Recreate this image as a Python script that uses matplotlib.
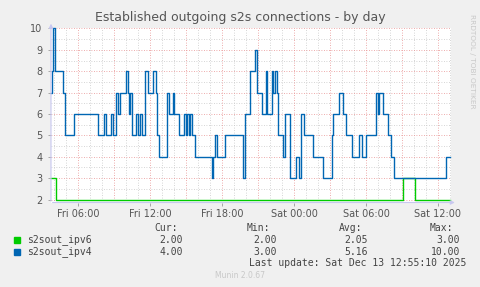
import matplotlib.pyplot as plt
from matplotlib.patches import Rectangle
import numpy as np

# step changes (value holds until the next time)
ipv6_times = ['Fri 03:45', 'Fri 04:10', 'Sat 09:05', 'Sat 10:05']
ipv6_vals = [3, 2, 3, 2]

ipv4_times = ['Fri 03:45', 'Fri 03:50', 'Fri 03:55', 'Fri 04:05', 'Fri 04:45',
              'Fri 04:55', 'Fri 05:40', 'Fri 07:40', 'Fri 08:10', 'Fri 08:20',
              'Fri 08:45', 'Fri 08:55', 'Fri 09:10', 'Fri 09:20', 'Fri 09:30',
              'Fri 10:00', 'Fri 10:10', 'Fri 10:15', 'Fri 10:20', 'Fri 10:30',
              'Fri 10:50', 'Fri 11:00', 'Fri 11:10', 'Fri 11:20', 'Fri 11:35',
              'Fri 11:50', 'Fri 12:15', 'Fri 12:30', 'Fri 12:35', 'Fri 12:45',
              'Fri 13:25', 'Fri 13:35', 'Fri 13:55', 'Fri 14:00', 'Fri 14:25',
              'Fri 14:50', 'Fri 15:00', 'Fri 15:05', 'Fri 15:15', 'Fri 15:20',
              'Fri 15:30', 'Fri 15:45', 'Fri 17:10', 'Fri 17:15', 'Fri 17:25',
              'Fri 17:35', 'Fri 18:15', 'Fri 19:45', 'Fri 19:55', 'Fri 20:20',
              'Fri 20:45', 'Fri 20:55', 'Fri 21:20', 'Fri 21:40', 'Fri 21:45',
              'Fri 22:10', 'Fri 22:15', 'Fri 22:25', 'Fri 22:35', 'Fri 22:40',
              'Fri 23:05', 'Fri 23:15', 'Fri 23:40', 'Sat 00:10', 'Sat 00:25',
              'Sat 00:35', 'Sat 00:50', 'Sat 01:35', 'Sat 02:25', 'Sat 03:10',
              'Sat 03:15', 'Sat 03:45', 'Sat 04:05', 'Sat 04:20', 'Sat 04:50',
              'Sat 05:25', 'Sat 05:40', 'Sat 06:00', 'Sat 06:50', 'Sat 07:00',
              'Sat 07:05', 'Sat 07:25', 'Sat 07:50', 'Sat 08:05', 'Sat 08:20',
              'Sat 12:40']
ipv4_vals = [7, 8, 10, 8, 7,
             5, 6, 5, 6, 5,
             6, 5, 7, 6, 7,
             8, 7, 6, 7, 5,
             6, 5, 6, 5, 8,
             7, 8, 7, 5, 4,
             7, 6, 7, 6, 5,
             6, 5, 6, 5, 6,
             5, 4, 3, 4, 5,
             4, 5, 3, 6, 8,
             9, 7, 6, 8, 6,
             8, 7, 8, 7, 5,
             4, 6, 3, 4, 3,
             6, 5, 4, 3, 5,
             6, 7, 6, 5, 4,
             5, 4, 5, 7, 6,
             7, 6, 5, 4, 3,
             4]

end_time = 'Sat 13:05'
tick_hours = [6, 12, 18, 24, 30, 36]
tick_labels = ['Fri 06:00', 'Fri 12:00', 'Fri 18:00', 'Sat 00:00', 'Sat 06:00', 'Sat 12:00']

legend_names = ['s2sout_ipv6', 's2sout_ipv4']
legend_colors = ['#00cc00', '#0066b3']
cur = ['2.00', '4.00']
mins = ['2.00', '3.00']
avg = ['2.05', '5.16']
maxs = ['3.00', '10.00']


def to_hours(s):
    day, hm = s.split()
    h, m = hm.split(':')
    return (24 if day == 'Sat' else 0) + int(h) + int(m) / 60


W, H = 481, 287
fig = plt.figure(figsize=(W / 100, H / 100), dpi=100, facecolor='#f0f0f0')
ax = fig.add_axes([51 / W, 1 - 202.5 / H, 400 / W, (202.5 - 28) / H])
ax.set_facecolor('white')

t0 = to_hours(ipv4_times[0])
t1 = to_hours(end_time)
ax.set_xlim(t0, t1)
ax.set_ylim(1.86, 10.02)

# grid
for y in np.arange(2.5, 10, 1):
    ax.axhline(y, color='#c8c8c8', lw=0.6, ls=(0, (1, 2)), zorder=1)
for x in range(4, 38):
    if x % 3:
        ax.axvline(x, color='#c8c8c8', lw=0.6, ls=(0, (1, 2)), zorder=1)
for y in range(2, 11):
    ax.axhline(y, color='#e89090', lw=0.6, ls=(0, (1, 2)), zorder=1)
for x in range(6, 38, 3):
    ax.axvline(x, color='#e89090', lw=0.6, ls=(0, (1, 2)), zorder=1)

for times, vals, c in [(ipv6_times, ipv6_vals, legend_colors[0]),
                       (ipv4_times, ipv4_vals, legend_colors[1])]:
    xs = [to_hours(t) for t in times] + [t1 - 1 / 12]
    ys = list(vals) + [vals[-1]]
    ax.plot(xs, ys, drawstyle='steps-post', color=c, lw=1.0, zorder=3,
            clip_on=False)

for s in ax.spines.values():
    s.set_visible(False)

axis_col = '#c8c8f0'
ax.annotate('', xy=(t1 + 0.55, 1.86), xytext=(t0 - 0.1, 1.86),
            arrowprops=dict(arrowstyle='-|>', color=axis_col, lw=0.8,
                            mutation_scale=6), annotation_clip=False)
ax.annotate('', xy=(t0, 10.35), xytext=(t0, 1.8),
            arrowprops=dict(arrowstyle='-|>', color=axis_col, lw=0.8,
                            mutation_scale=6), annotation_clip=False)

ax.set_xticks(tick_hours)
ax.set_xticklabels(tick_labels)
ax.set_yticks(range(2, 11))
ax.tick_params(axis='both', colors='#999999', labelcolor='#555555',
               labelsize=7, length=2, width=0.6)
ax.tick_params(axis='y', pad=4)
ax.tick_params(axis='x', pad=3)

fig.text(240 / W, 1 - 18 / H, 'Established outgoing s2s connections - by day',
         ha='center', va='center', fontsize=9, color='#555555')
fig.text(472 / W, 1 - 14 / H, 'RRDTOOL / TOBI OETIKER', rotation=270,
         ha='center', va='top', fontsize=5.3, color='#c8c8c8')

mono = dict(family='DejaVu Sans Mono', fontsize=7, color='#444444', va='center')
fig.text(178 / W, 1 - 228 / H, 'Cur:', ha='right', **mono)
fig.text(270 / W, 1 - 228 / H, 'Min:', ha='right', **mono)
fig.text(362 / W, 1 - 228 / H, 'Avg:', ha='right', **mono)
fig.text(453 / W, 1 - 228 / H, 'Max:', ha='right', **mono)
for i, name in enumerate(legend_names):
    y = 1 - (240 + 11.7 * i) / H
    fig.patches.append(Rectangle((14 / W, y - 3 / H), 6 / W, 6 / H,
                                 transform=fig.transFigure,
                                 color=legend_colors[i]))
    fig.text(27 / W, y, name, ha='left', **mono)
    fig.text(183 / W, y, cur[i], ha='right', **mono)
    fig.text(277 / W, y, mins[i], ha='right', **mono)
    fig.text(368 / W, y, avg[i], ha='right', **mono)
    fig.text(460 / W, y, maxs[i], ha='right', **mono)
fig.text(466 / W, 1 - 263.5 / H, 'Last update: Sat Dec 13 12:55:10 2025',
         ha='right', **mono)
fig.text(240 / W, 1 - 276 / H, 'Munin 2.0.67', ha='center', va='center',
         fontsize=5.5, color='#c8c8c8')

fig.savefig('out.png', dpi=100, facecolor=fig.get_facecolor())
